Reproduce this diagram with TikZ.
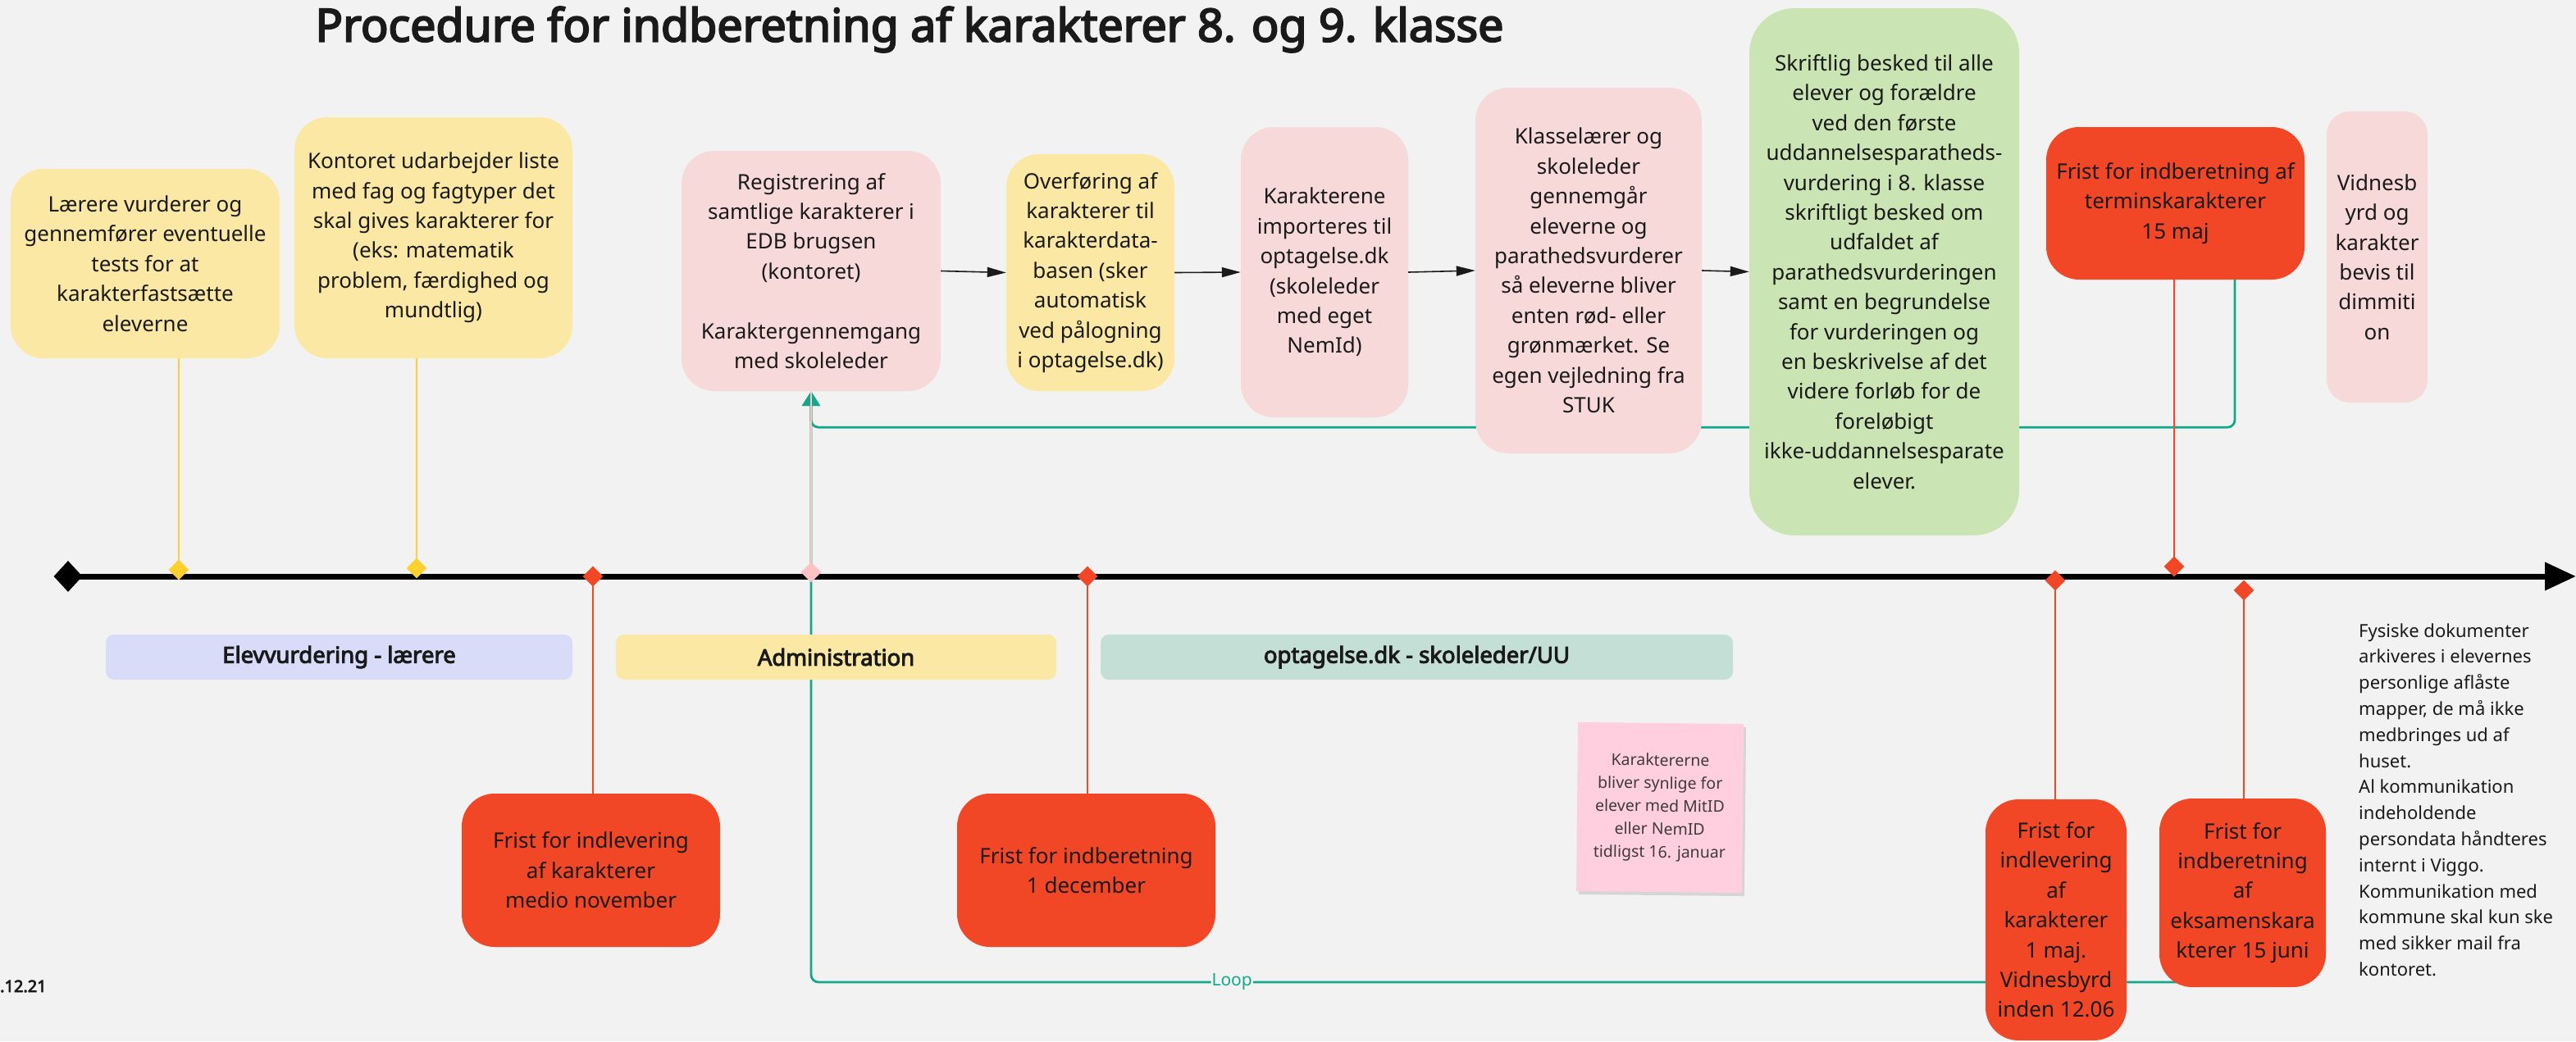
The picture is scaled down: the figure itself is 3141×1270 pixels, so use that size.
\documentclass[tikz,border=0pt]{standalone}
\usepackage{fontspec}
\setmainfont{Noto Sans}
\newfontfamily\nsbold{Noto Sans}[FakeBold=3.6]
\usetikzlibrary{arrows.meta,shapes.geometric,shadows}
\definecolor{bgc}{HTML}{F2F2F2}
\definecolor{txt}{HTML}{1A1A1A}
\definecolor{yel}{HTML}{FBE8A5}
\definecolor{pinkbox}{HTML}{F8D9DA}
\definecolor{greenbox}{HTML}{CAE5B3}
\definecolor{redbox}{HTML}{F24726}
\definecolor{bandA}{HTML}{D8DCF9}
\definecolor{bandC}{HTML}{C3DFD6}
\definecolor{sticky}{HTML}{FFCEDF}
\definecolor{gold}{HTML}{FFD02F}
\definecolor{tealc}{HTML}{14A88A}
\definecolor{pinkd}{HTML}{FFC2C2}
\pgfdeclarelayer{bgl}
\pgfsetlayers{bgl,main}
\begin{document}
\begin{tikzpicture}[x=1pt,y=-1pt,
  box/.style={rounded corners=40pt, align=center, inner sep=0pt, text=txt,
    font=\fontsize{26}{36.4}\selectfont},
  band/.style={rounded corners=10pt, align=center, inner sep=0pt, text=txt,
    minimum height=55pt, font=\fontsize{27.5}{30}\nsbold},
  dia/.style={diamond, inner sep=0pt, minimum width=25pt, minimum height=25pt},
  flow/.style={line width=1.6pt, txt, -{Triangle[length=23pt,width=12pt]}},
  redline/.style={line width=2pt, redbox},
  yline/.style={line width=2pt, gold},
  tline/.style={line width=2.8pt, tealc, rounded corners=9pt, -{Triangle[length=18pt,width=22pt]}},
]
\begin{pgfonlayer}{bgl}
\fill[bgc] (0,0) rectangle (3141,1270);
\end{pgfonlayer}
\useasboundingbox (0,0) rectangle (3141,1270);

% title
\node[text=txt, font=\fontsize{55.5}{64}\nsbold, inner sep=0pt] (title) at (1109,36)
  {Procedure for indberetning af karakterer 8. og 9. klasse};

% timeline
\node[diamond, fill=black, inner sep=0pt, minimum width=35pt, minimum height=38pt] (tstart) at (83,703) {};
\coordinate (tend) at (3141,703);
\draw[line width=7pt, -{Triangle[length=38pt,width=33pt]}] (tstart.center) -- (tend);

% upper boxes
\node[box, fill=yel, minimum width=328pt, minimum height=231pt] (b1) at (177,321.5)
  {Lærere vurderer og\\gennemfører eventuelle\\tests for at\\karakterfastsætte\\eleverne};
\node[box, fill=yel, minimum width=339pt, minimum height=294pt] (b2) at (528.5,290)
  {Kontoret udarbejder liste\\med fag og fagtyper det\\skal gives karakterer for\\(eks: matematik\\problem, færdighed og\\mundtlig)};
\node[box, fill=pinkbox, minimum width=316pt, minimum height=293pt] (b3) at (989,330.5)
  {Registrering af\\samtlige karakterer i\\EDB brugsen\\(kontoret)\\[36.4pt]Karaktergennemgang\\med skoleleder};
\node[box, fill=yel, minimum width=205pt, minimum height=289pt] (b4) at (1329.5,332.5)
  {Overføring af\\karakterer til\\karakterdata-\\basen (sker\\automatisk\\ved pålogning\\i optagelse.dk)};
\node[box, fill=pinkbox, minimum width=204pt, minimum height=354pt] (b5) at (1615,332)
  {Karakterene\\importeres til\\optagelse.dk\\(skoleleder\\med eget\\NemId)};
\node[box, fill=pinkbox, minimum width=276pt, minimum height=446pt] (b6) at (1937,330)
  {Klasselærer og\\skoleleder\\gennemgår\\eleverne og\\parathedsvurderer\\så eleverne bliver\\enten rød- eller\\grønmærket. Se\\egen vejledning fra\\STUK};
\node[box, rounded corners=55pt, fill=greenbox, minimum width=329pt, minimum height=643pt] (b7) at (2297.5,331.5)
  {Skriftlig besked til alle\\elever og forældre\\ved den første\\uddannelsesparatheds-\\vurdering i 8. klasse\\skriftligt besked om\\udfaldet af\\parathedsvurderingen\\samt en begrundelse\\for vurderingen og\\en beskrivelse af det\\videre forløb for de\\foreløbigt\\ikke-uddannelsesparate\\elever.};
\node[box, fill=redbox, minimum width=315pt, minimum height=186pt] (b8) at (2652.5,248)
  {Frist for indberetning af\\terminskarakterer\\15 maj};
\node[box, rounded corners=28pt, fill=pinkbox, minimum width=123pt, minimum height=355pt] (b9) at (2898.5,313.5)
  {Vidnesb\\yrd og\\karakter\\bevis til\\dimmiti\\on};

% bands
\node[band, fill=bandA, minimum width=569pt] (band1) at (413.5,801.5) {Elevvurdering - lærere};
\node[band, fill=yel, minimum width=537pt] (band2) at (1019.5,801.5) {Administration};
\node[band, fill=bandC, minimum width=771pt] (band3) at (1727.5,801.5) {optagelse.dk - skoleleder/UU};

% lower boxes
\node[box, fill=redbox, minimum width=315pt, minimum height=187pt] (r1) at (720.5,1061.5)
  {Frist for indlevering\\af karakterer\\medio november};
\node[box, fill=redbox, minimum width=315pt, minimum height=187pt] (r2) at (1324.5,1061.5)
  {Frist for indberetning\\1 december};
\node[box, fill=redbox, minimum width=172pt, minimum height=294pt] (r3) at (2507,1122)
  {Frist for\\indlevering\\af\\karakterer\\1 maj.\\Vidnesbyrd\\inden 12.06};
\node[box, fill=redbox, minimum width=203pt, minimum height=230pt] (r4) at (2734.5,1089)
  {Frist for\\indberetning\\af\\eksamenskara\\kterer 15 juni};

% sticky note
\node[fill=sticky, minimum width=202pt, minimum height=206pt, inner sep=0pt, align=center,
  text=txt!85, rotate=-0.6, font=\fontsize{19.5}{28}\selectfont,
  drop shadow={shadow xshift=3pt, shadow yshift=-4pt, opacity=0.25}] (note) at (2024,985)
  {Karaktererne\\bliver synlige for\\elever med MitID\\eller NemID\\tidligst 16. januar};

% right text
\node[anchor=west, align=left, inner sep=0pt, text=txt, font=\fontsize{22}{31.8}\selectfont] (info) at (2876,975.5)
  {Fysiske dokumenter\\arkiveres i elevernes\\personlige aflåste\\mapper, de må ikke\\medbringes ud af\\huset.\\Al kommunikation\\indeholdende\\persondata håndteres\\internt i Viggo.\\Kommunikation med\\kommune skal kun ske\\med sikker mail fra\\kontoret.};

% date
\node[anchor=west, inner sep=0pt, text=txt, font=\fontsize{20}{22}\nsbold] (date) at (0,1203) {.12.21};

% diamonds
\node[dia, fill=gold] (d1) at (218,695) {};
\node[dia, fill=gold] (d2) at (508,693) {};
\node[dia, fill=redbox] (d3) at (723,703) {};
\node[dia, fill=pinkd] (d4) at (989,698) {};
\node[dia, fill=redbox] (d5) at (1326,703) {};
\node[dia, fill=redbox] (d6) at (2506,708) {};
\node[dia, fill=redbox] (d7) at (2651,691) {};
\node[dia, fill=redbox] (d8) at (2736,720) {};

\begin{pgfonlayer}{bgl}
% green loops
\draw[tline] ([xshift=72.5pt]b8.south) -- ++(0,180) -| (b3.south);
\draw[tline] ([yshift=-109pt]r4.center) -| (b3.south)
  node[pos=0.353, fill=bgc, inner sep=1pt, text=tealc, font=\fontsize{21}{24}\selectfont] (looplbl) {Loop};
% pink line
\draw[line width=2pt, pinkd] (d4.center) -- (d4 |- b3.south);
% timeline connectors
\draw[yline] (d1.center) -- (d1 |- b1.south);
\draw[yline] (d2.center) -- (d2 |- b2.south);
\draw[redline] (d3.center) -- (d3 |- r1.north);
\draw[redline] (d5.center) -- (d5 |- r2.north);
\draw[redline] (d6.center) -- (d6 |- r3.north);
\draw[redline] (d7.center) -- (d7 |- b8.south);
\draw[redline] (d8.center) -- (d8 |- r4.north);
% flow arrows
\draw[flow] (b3.east) -- (b4.west);
\draw[flow] (b4.east) -- (b5.west);
\draw[flow] (b5.east) -- (b6.west);
\draw[flow] (b6.east) -- (b7.west);
\end{pgfonlayer}
\end{tikzpicture}
\end{document}
